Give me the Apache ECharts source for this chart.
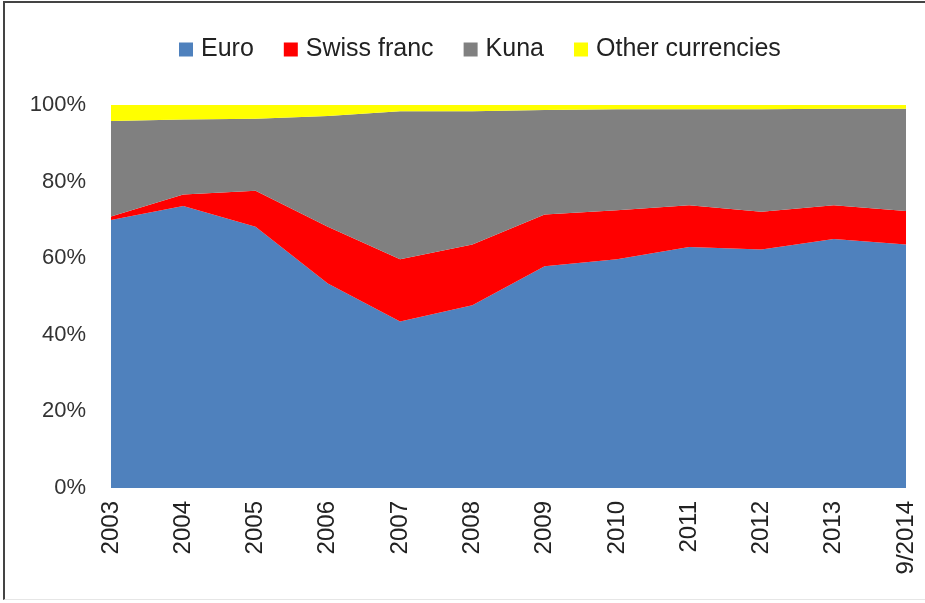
<!DOCTYPE html>
<html>
<head>
<meta charset="utf-8">
<script src="https://cdn.jsdelivr.net/npm/echarts@6/dist/echarts.min.js"></script>
<style>
  html, body { margin: 0; padding: 0; background: #fff; }
  #frame { position: absolute; left: 3px; top: 1px; width: 930px; height: 596px;
           border-left: 2px solid #444; border-top: 2px solid #444; border-bottom: 1px solid #e6e6e6; }
  #main { position: absolute; left: 0; top: 0; width: 925px; height: 603px; }
</style>
</head>
<body>
<div id="frame"></div>
<div id="main"></div>
<script>
var years = ['2003','2004','2005','2006','2007','2008','2009','2010','2011','2012','2013','9/2014'];
var euro  = [70.0, 73.6, 68.2, 53.4, 43.5, 47.7, 57.9, 59.7, 62.9, 62.3, 65.0, 63.6];
var swiss = [0.9, 3.0, 9.4, 14.8, 16.2, 15.9, 13.5, 12.8, 10.9, 9.8, 8.8, 8.7];
var kuna  = [24.9, 19.6, 18.8, 28.9, 38.7, 34.8, 27.3, 26.4, 25.1, 26.8, 25.2, 26.7];
var other = [4.2, 3.8, 3.6, 2.9, 1.6, 1.6, 1.3, 1.1, 1.1, 1.1, 1.0, 1.0];

var font = '"Liberation Sans", Arial, sans-serif';

function area(name, data, color) {
  return {
    name: name,
    type: 'line',
    stack: 'total',
    data: data,
    symbol: 'none',
    lineStyle: { width: 0 },
    itemStyle: { color: color },
    areaStyle: { color: color, opacity: 1 }
  };
}

var myChart = echarts.init(document.getElementById('main'));
myChart.setOption({
  animation: false,
  textStyle: { fontFamily: font },
  legend: {
    left: 174,
    top: 32,
    itemWidth: 14,
    itemHeight: 14,
    itemGap: 30,
    icon: 'rect',
    textStyle: { fontSize: 25, color: '#222', fontFamily: font, padding: [0, 0, 0, 3] },
    data: ['Euro', 'Swiss franc', 'Kuna', 'Other currencies']
  },
  grid: { left: 111, right: 19, top: 105, bottom: 115 },
  xAxis: {
    type: 'category',
    data: years,
    boundaryGap: false,
    axisLine: { show: false },
    axisTick: { show: false },
    axisLabel: { rotate: 90, margin: 13, fontSize: 24, color: '#222', fontFamily: font, interval: 0 }
  },
  yAxis: {
    type: 'value',
    min: 0,
    max: 100,
    interval: 20,
    axisLine: { show: false },
    axisTick: { show: false },
    splitLine: { show: false },
    axisLabel: { formatter: '{value}%', margin: 25, fontSize: 22, color: '#333', fontFamily: font }
  },
  series: [
    area('Euro', euro, '#4F81BD'),
    area('Swiss franc', swiss, '#FF0000'),
    area('Kuna', kuna, '#808080'),
    area('Other currencies', other, '#FFFF00')
  ]
});
</script>
</body>
</html>
